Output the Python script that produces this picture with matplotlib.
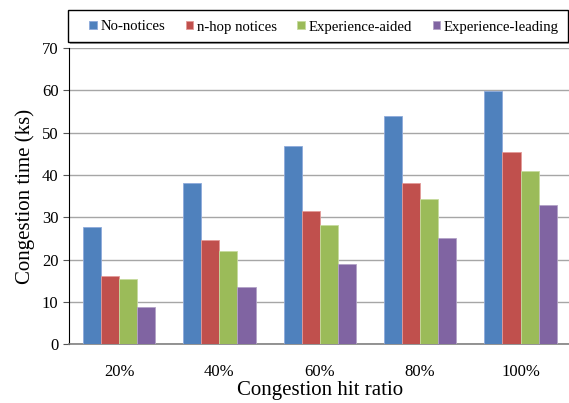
import numpy as np
import matplotlib
matplotlib.use('Agg')
import matplotlib.pyplot as plt
from matplotlib.patches import Rectangle

plt.rcParams['font.family'] = ['Liberation Serif', 'DejaVu Serif']

categories = ['20%', '40%', '60%', '80%', '100%']
no_notices = [27.7, 38.2, 46.9, 54.0, 59.9]
nhop_notices = [16.1, 24.5, 31.5, 38.2, 45.3]
exp_aided = [15.4, 21.9, 28.2, 34.3, 40.9]
exp_leading = [8.9, 13.5, 18.9, 25.1, 32.8]

series = [no_notices, nhop_notices, exp_aided, exp_leading]
names = ['No-notices', 'n-hop notices', 'Experience-aided', 'Experience-leading']
colors = ['#4F81BD', '#C0504D', '#9BBB59', '#8064A2']
edges = ['#8EAADB', '#E39A98', '#C7DB9E', '#B3A2C7']

W, H = 569, 403
fig = plt.figure(figsize=(W / 100, H / 100), dpi=100)
ax = fig.add_axes([0.121, 0.146, 0.882, 0.735])

x = np.arange(len(categories))
w = 0.18
for i, vals in enumerate(series):
    ax.bar(x + (i - 1.5) * w, vals, w, color=colors[i], edgecolor=edges[i],
           linewidth=0.6, label=names[i], zorder=3)

ax.set_xlim(-0.5, 4.5)
ax.set_ylim(0, 70)
ax.set_yticks(range(0, 71, 10))
ax.set_xticks(x)
ax.set_xticklabels(categories, fontsize=12)
ax.tick_params(axis='y', labelsize=12, direction='out', length=4, color='#555555')
ax.tick_params(axis='x', length=0, pad=14)
ax.grid(axis='y', color='#A6A6A6', linewidth=1.0, zorder=0)
for s in ['top', 'right']:
    ax.spines[s].set_visible(False)
ax.spines['left'].set_color('black')
ax.spines['bottom'].set_color('#808080')
ax.spines['bottom'].set_linewidth(1.2)

ax.set_ylabel('Congestion time (ks)', fontsize=15, labelpad=5)
ax.set_xlabel('Congestion hit ratio', fontsize=15, labelpad=1)

# legend box with a small shadow
fig.patches.append(Rectangle((70 / W, 1 - 44 / H), 501 / W, 32 / H, transform=fig.transFigure,
                             facecolor='#A0A0A0', edgecolor='none', zorder=1))
fig.patches.append(Rectangle((68 / W, 1 - 42 / H), 500 / W, 32 / H, transform=fig.transFigure,
                             facecolor='white', edgecolor='black', linewidth=1.0, zorder=2))

handles, labels = ax.get_legend_handles_labels()
leg = fig.legend(handles, labels, loc='center', bbox_to_anchor=(324 / W, 1 - 27 / H),
                 ncol=4, fontsize=10.6, frameon=False, handlelength=0.5, handleheight=0.5,
                 handletextpad=0.25, borderaxespad=0, columnspacing=1.4)
leg.set_zorder(3)

fig.savefig('out.png', dpi=100)
